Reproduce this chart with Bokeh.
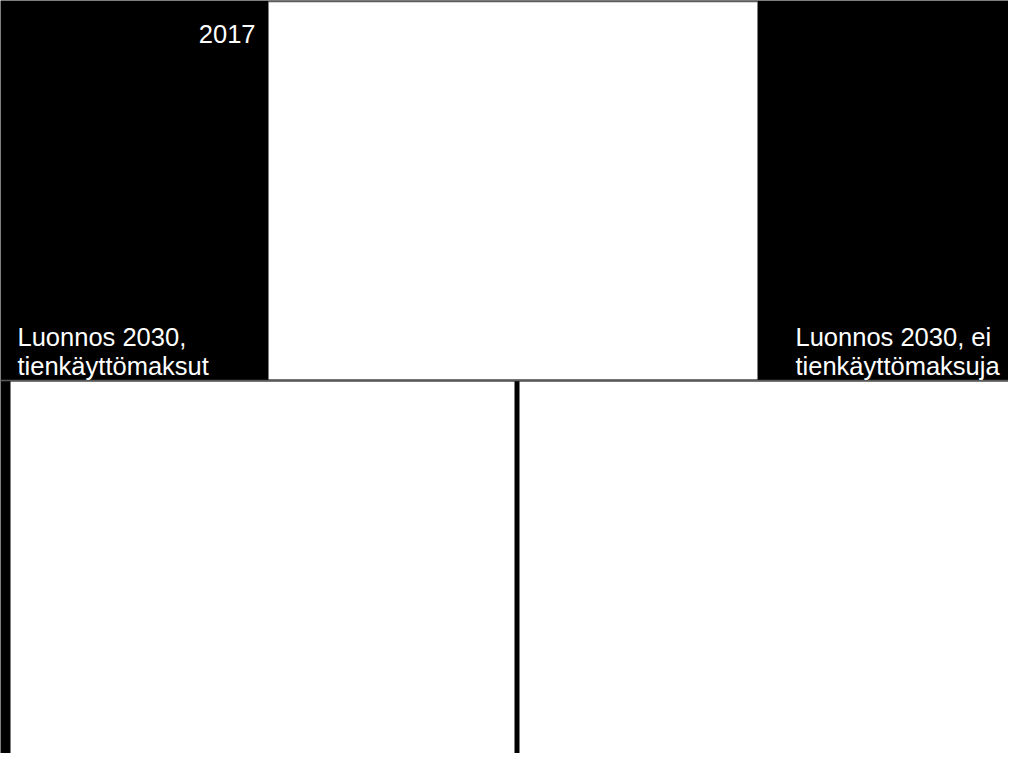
from bokeh.plotting import figure
from bokeh.models import Range1d, ColumnDataSource
from bokeh.embed import file_html
from bokeh.resources import INLINE
from bokeh.core.properties import value

# --- content (three map panels and their captions) ---
panel_names = ["2017", "Luonnos 2030, tienkäyttömaksut", "Luonnos 2030, ei tienkäyttömaksuja"]
caption_lines = [["2017"],
                 ["Luonnos 2030,", "tienkäyttömaksut"],
                 ["Luonnos 2030, ei", "tienkäyttömaksuja"]]

# --- layout (pixel space of the 1024x769 picture) ---
PAGE_W, PAGE_H = 1024, 769
MARGIN = 8
frame_left = [268, 10, 519]
frame_right = [757, 514, 1024]
frame_top = [1, 381, 381]
frame_bottom = [379, 769, 769]
caption_x = [255, 17, 795]
caption_y0 = [33, 336, 336]
caption_align = ["right", "left", "left"]
LINE_STEP = 29

W, H = PAGE_W - 2 * MARGIN, PAGE_H - 2 * MARGIN
p = figure(width=W, height=H,
           x_range=Range1d(0, W), y_range=Range1d(H, 0),
           output_backend="svg", toolbar_location=None, min_border=0)
p.axis.visible = False
p.grid.visible = False
p.outline_line_color = None
p.background_fill_color = "black"
p.border_fill_color = "black"

p.quad(left=frame_left, right=frame_right, top=frame_top, bottom=frame_bottom,
       fill_color="white", line_color=None)
# thin grey rule under the top row and above the top panel
p.segment(x0=[0, frame_left[0]], x1=[PAGE_W, frame_right[0]],
          y0=[frame_bottom[0] + 1, frame_top[0]], y1=[frame_bottom[0] + 1, frame_top[0]],
          line_color="#5a5a5a", line_width=1.5)

xs, ys, ts, aligns = [], [], [], []
for i, lines in enumerate(caption_lines):
    for j, line in enumerate(lines):
        xs.append(caption_x[i])
        ys.append(caption_y0[i] + j * LINE_STEP)
        ts.append(line)
        aligns.append(caption_align[i])
src = ColumnDataSource(dict(x=xs, y=ys, text=ts, align=aligns))
p.text(x="x", y="y", text="text", source=src, text_align="align",
       text_baseline="alphabetic", text_color="white",
       text_font=value("Liberation Sans"), text_font_size="25.5px")

open("out.html", "w").write(file_html(p, INLINE))
